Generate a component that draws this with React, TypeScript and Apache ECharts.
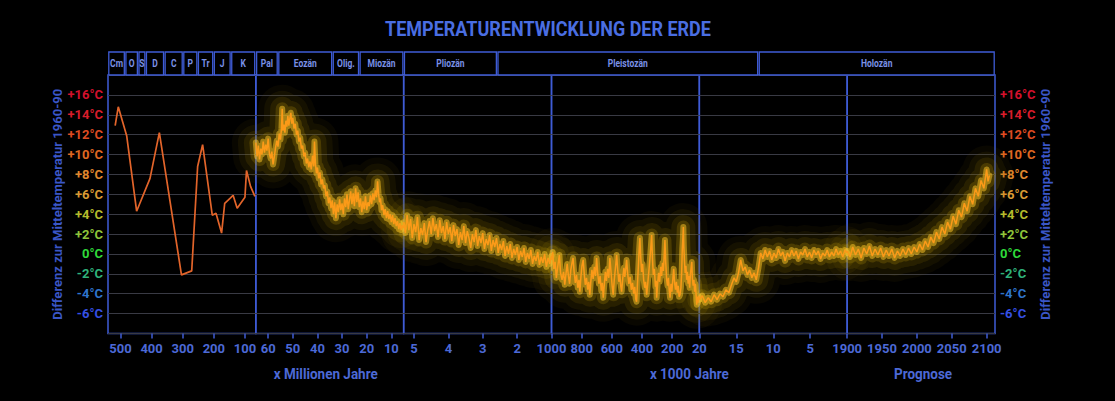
import React, { useEffect, useRef } from 'react';
import * as echarts from 'echarts';

const TITLE = 'TEMPERATURENTWICKLUNG DER ERDE';
const Y_NAME = 'Differenz zur Mitteltemperatur 1960-90';
const X_NAMES = ['x Millionen Jahre', 'x 1000 Jahre', 'Prognose'];

const Y_MIN = -8;
const Y_MAX = 18;
const Y_LABEL_MIN = -6;
const Y_LABEL_MAX = 16;
const Y_LABEL_COLORS: Record<string, string> = {
  '16': '#d3112c', '14': '#d81d2b', '12': '#de4b22', '10': '#e06822',
  '8': '#e0882e', '6': '#d89a34', '4': '#b4bb2c', '2': '#8fc43a',
  '0': '#2fd93a', '-2': '#2fb27a', '-4': '#2f74cc', '-6': '#3550e4',
};

// x-axis domains of the six sections (Ma, Ma, Ma, ka, ka, year)
const SEC_MIN = [65, 5, 1.0, 20, 0, 1900];
const SEC_MAX = [540, 65, 5.3, 1000, 20, 2112];
const SEC_INVERSE = [true, true, true, true, true, false];
const X_TICKS_1 = [500, 400, 300, 200, 100];
const X_TICKS_2 = [60, 50, 40, 30, 20, 10];
const X_TICKS_3 = [5, 4, 3, 2];
const X_TICKS_4 = [1000, 800, 600, 400, 200, 20];
const X_TICKS_5 = [15, 10, 5];
const X_TICKS_6 = [1900, 1950, 2000, 2050, 2100];
const X_TICKS = [X_TICKS_1, X_TICKS_2, X_TICKS_3, X_TICKS_4, X_TICKS_5, X_TICKS_6];

// geological periods: name, [section, value] start, [section, value] end
const PERIOD_NAMES = ['Cm', 'O', 'S', 'D', 'C', 'P', 'Tr', 'J', 'K', 'Pal', 'Eozän', 'Olig.', 'Miozän', 'Pliozän', 'Pleistozän', 'Holozän'];
const PERIOD_FROM: [number, number][] = [[0, 540], [0, 485], [0, 443], [0, 419], [0, 359], [0, 299], [0, 252], [0, 201], [0, 145], [1, 65], [1, 56], [1, 33.9], [1, 23], [2, 5.3], [2, 2.58], [4, 12]];
const PERIOD_TO: [number, number][] = [[0, 485], [0, 443], [0, 419], [0, 359], [0, 299], [0, 252], [0, 201], [0, 145], [0, 66], [1, 56], [1, 33.9], [1, 23], [1, 5], [2, 2.58], [4, 12], [5, 2112]];

// temperature data (°C difference) per section
const SEG1: [number, number][] = [
  [517, 12.9], [507, 14.8], [480, 11.9], [448, 4.3], [405, 7.6], [375, 12.2], [304, -2.1], [271, -1.7], [252, 8.8], [236, 11.0],
  [205, 3.9], [193, 4.1], [175, 2.1], [165, 5.1], [148, 5.6], [138, 5.9], [125, 4.6], [100, 5.7], [95, 8.4], [82, 6.8], [68, 5.8],
];
const SEG2: [number, number][] = [
  [65, 11.2], [64.5, 9.8], [64, 10.9], [63.5, 9.5], [63, 10.6], [62.5, 10.0], [62, 11.3], [61.5, 10.2], [61, 11.0], [60.5, 10.4],
  [60, 11.6], [59.5, 10.1], [59, 9.6], [58.5, 10.3], [58, 9.0], [57.5, 9.8], [57, 10.7], [56.5, 11.4], [56, 10.8], [55.5, 12.1],
  [55, 11.5], [54.6, 12.6], [54.3, 14.6], [54, 12.4], [53.6, 13.0], [53.2, 12.2], [52.8, 13.4], [52.4, 12.8], [52, 13.9], [51.6, 12.9],
  [51.2, 13.6], [50.8, 14.2], [50.4, 13.1], [50, 13.7], [49.5, 12.6], [49, 13.1], [48.5, 12.0], [48, 12.4], [47.5, 11.3], [47, 11.7],
  [46.5, 10.6], [46, 10.9], [45.5, 9.8], [45, 10.2], [44.5, 9.1], [44, 9.6], [43.5, 8.7], [43, 9.3], [42.5, 8.5], [42, 9.9],
  [41.5, 8.8], [41.2, 11.3], [40.8, 9.0], [40.4, 8.1], [40, 8.7], [39.5, 7.6], [39, 8.2], [38.5, 7.0], [38, 7.5], [37.5, 6.6],
  [37, 6.9], [36.5, 5.8], [36, 6.3], [35.5, 5.1], [35, 5.7], [34.5, 4.6], [34, 5.4], [33.5, 4.0], [33, 5.2], [32.5, 3.6],
  [32, 5.0], [31.5, 4.2], [31, 5.5], [30.5, 4.4], [30, 5.1], [29.5, 4.0], [29, 5.6], [28.5, 4.7], [28, 6.0], [27.5, 4.5],
  [27, 5.4], [26.5, 6.3], [26, 5.0], [25.5, 6.1], [25, 4.8], [24.5, 6.6], [24, 5.2], [23.5, 6.2], [23, 4.7], [22.5, 5.6],
  [22, 4.2], [21.5, 5.3], [21, 4.5], [20.5, 5.8], [20, 4.4], [19.5, 5.2], [19, 4.8], [18.5, 5.9], [18, 5.0], [17.5, 6.1],
  [17, 5.4], [16.5, 6.4], [16, 5.7], [15.6, 7.3], [15.2, 6.1], [14.8, 5.2], [14.4, 5.6], [14, 4.4], [13.5, 4.9], [13, 3.9],
  [12.5, 4.5], [12, 3.6], [11.5, 4.3], [11, 3.5], [10.5, 4.0], [10, 3.2], [9.5, 3.9], [9, 3.0], [8.5, 3.6], [8, 2.8],
  [7.5, 3.3], [7, 2.5], [6.5, 3.1], [6, 2.4], [5.5, 2.9], [5, 2.6],
];
const SEG3: [number, number][] = [
  [5.3, 3.2], [5.25, 2.1], [5.2, 3.9], [5.15, 2.4], [5.1, 3.5], [5.05, 1.6], [5.0, 3.0], [4.95, 2.2], [4.9, 3.7], [4.85, 1.4],
  [4.8, 2.6], [4.75, 1.9], [4.7, 3.1], [4.65, 1.2], [4.6, 2.4], [4.55, 3.3], [4.5, 2.0], [4.45, 3.6], [4.4, 2.3], [4.35, 3.0],
  [4.3, 1.7], [4.25, 3.4], [4.2, 2.1], [4.15, 2.8], [4.1, 1.5], [4.05, 3.2], [4.0, 2.0], [3.95, 2.7], [3.9, 1.3], [3.85, 2.9],
  [3.8, 1.8], [3.75, 2.5], [3.7, 0.9], [3.65, 2.2], [3.6, 1.4], [3.55, 2.8], [3.5, 1.1], [3.45, 2.3], [3.4, 1.6], [3.35, 0.6],
  [3.3, 2.0], [3.25, 1.2], [3.2, 2.4], [3.15, 0.8], [3.1, 1.8], [3.05, 1.1], [3.0, 2.1], [2.95, 0.5], [2.9, 1.5], [2.85, 0.9],
  [2.8, 1.9], [2.75, 0.3], [2.7, 1.4], [2.65, 0.7], [2.6, 1.6], [2.55, 0.1], [2.5, 1.0], [2.45, 0.4], [2.4, 1.3], [2.35, -0.2],
  [2.3, 0.8], [2.25, 0.0], [2.2, 1.0], [2.15, -0.4], [2.1, 0.5], [2.05, -0.1], [2.0, 0.7], [1.95, -0.6], [1.9, 0.3], [1.85, -0.3],
  [1.8, 0.6], [1.75, -0.8], [1.7, 0.1], [1.65, -0.5], [1.6, 0.4], [1.55, -1.0], [1.5, -0.2], [1.45, -0.7], [1.4, 0.2], [1.35, -1.1],
  [1.3, -0.3], [1.25, -0.9], [1.2, 0.0], [1.15, -1.3], [1.1, -0.4], [1.05, -1.0], [1.0, -0.2],
];
const SEG4: [number, number][] = [
  [1000, -0.6], [992, 0.2], [984, -1.5], [976, -0.8], [968, -2.4], [958, -1.2], [948, -0.1], [940, -1.9], [930, -2.6], [920, -1.8],
  [912, -3.1], [904, -2.0], [896, -1.0], [888, -2.2], [880, -3.0], [872, -1.6], [864, -0.9], [857, -0.4], [850, -1.8], [842, -2.9],
  [834, -2.1], [826, -3.4], [818, -2.6], [812, -3.8], [805, -2.3], [798, -1.2], [790, -0.6], [783, -2.0], [776, -3.1], [768, -2.4],
  [760, -3.6], [753, -2.8], [746, -4.1], [739, -2.7], [732, -1.6], [724, -2.5], [716, -1.3], [708, -2.2], [701, -0.4], [694, -1.9],
  [686, -3.0], [678, -2.2], [670, -3.7], [663, -2.9], [657, -4.4], [650, -3.1], [643, -1.8], [636, -2.7], [628, -1.5], [620, -2.4],
  [613, -0.4], [606, -1.7], [598, -3.2], [591, -4.1], [584, -2.6], [576, -1.4], [568, -0.1], [561, -1.6], [554, -2.8], [547, -2.0],
  [541, -3.2], [535, -3.8], [528, -2.5], [520, -1.4], [514, -2.3], [508, -1.5], [502, -0.6], [495, -2.0], [487, -3.0], [479, -2.3],
  [471, -3.6], [463, -2.9], [455, -4.0], [448, -3.3], [442, -4.5], [436, -4.8], [430, -3.0], [424, -1.2], [419, 0.4], [414, 1.6],
  [409, -0.2], [403, -1.8], [396, -1.0], [389, -2.6], [382, -3.4], [376, -2.8], [369, -4.1], [362, -3.0], [355, -1.8], [348, -0.6],
  [342, 0.6], [336, 1.9], [331, -0.4], [325, -2.1], [318, -1.5], [311, -3.3], [306, -2.7], [303, -4.4], [297, -3.1], [290, -1.9],
  [283, -2.8], [276, -1.3], [270, -2.2], [264, -0.9], [258, -1.7], [252, 0.1], [248, 1.4], [243, -0.8], [237, -2.5], [231, -3.2],
  [225, -2.4], [219, -3.7], [214, -4.4], [208, -3.0], [202, -3.8], [196, -2.6], [190, -1.5], [184, -2.9], [178, -3.6], [172, -2.8],
  [166, -3.9], [160, -3.2], [154, -4.3], [148, -4.1], [142, -3.4], [137, -1.8], [133, 0.5], [129, 1.6], [126, 2.7], [123, 0.8],
  [119, -0.6], [114, -1.9], [109, -1.2], [104, -2.6], [99, -1.8], [94, -3.0], [89, -2.2], [84, -3.4], [79, -2.0], [74, -1.3],
  [70, -0.8], [66, -2.5], [61, -3.2], [56, -2.6], [51, -3.8], [46, -3.0], [41, -4.2], [37, -5.1], [33, -4.3], [29, -4.9],
  [25, -4.2], [20, -4.6],
];
const SEG5: [number, number][] = [
  [20, -4.6], [19.6, -4.2], [19.2, -4.9], [18.8, -4.4], [18.4, -4.8], [18, -4.1], [17.6, -4.6], [17.2, -4.0], [16.8, -4.3], [16.4, -3.6],
  [16, -3.9], [15.6, -3.0], [15.3, -2.4], [15, -2.8], [14.7, -1.9], [14.4, -0.6], [14.1, -1.7], [13.8, -1.3], [13.5, -2.1], [13.2, -1.6],
  [12.9, -2.4], [12.6, -1.9], [12.3, -2.6], [12, -1.4], [11.7, 0.1], [11.4, -0.5], [11.1, 0.4], [10.8, -0.3], [10.5, 0.3], [10.2, -0.6],
  [9.9, 0.1], [9.6, -0.4], [9.3, 0.5], [9, -0.2], [8.7, 0.2], [8.4, -0.7], [8.1, 0.1], [7.8, -0.3], [7.5, 0.4], [7.2, -0.2],
  [6.9, 0.3], [6.6, -0.5], [6.3, 0.2], [6, -0.1], [5.7, 0.5], [5.4, -0.3], [5.1, 0.2], [4.8, -0.4], [4.5, 0.4], [4.2, -0.1],
  [3.9, 0.3], [3.6, -0.5], [3.3, 0.1], [3, -0.2], [2.7, 0.4], [2.4, -0.3], [2.1, 0.2], [1.8, -0.2], [1.5, 0.5], [1.2, -0.1],
  [0.9, 0.3], [0.6, -0.3], [0.3, 0.4], [0, 0.1],
];
const SEG6: [number, number][] = [
  [1900, 0.3], [1904, -0.3], [1908, 0.7], [1912, -0.1], [1916, 0.5], [1920, -0.4], [1924, 0.6], [1928, 0.0], [1932, 0.8], [1936, -0.2],
  [1940, 0.5], [1944, -0.1], [1948, 0.6], [1952, -0.3], [1956, 0.4], [1960, -0.2], [1964, 0.5], [1968, -0.4], [1972, 0.3], [1976, -0.2],
  [1980, 0.5], [1984, -0.1], [1988, 0.6], [1992, 0.0], [1996, 0.7], [2000, 0.2], [2004, 1.0], [2008, 0.4], [2012, 1.3], [2016, 0.7],
  [2020, 1.7], [2024, 1.1], [2028, 2.2], [2032, 1.5], [2036, 2.7], [2040, 2.0], [2044, 3.2], [2048, 2.5], [2052, 3.8], [2056, 3.0],
  [2060, 4.4], [2064, 3.7], [2068, 5.1], [2072, 4.3], [2076, 5.8], [2080, 5.0], [2084, 6.6], [2088, 5.8], [2092, 7.4], [2096, 6.6],
  [2100, 8.5], [2102, 7.3], [2104, 7.9],
];
const WARM_SEGS = [SEG2, SEG3, SEG4, SEG5, SEG6];

const FONT = "Roboto, 'Liberation Sans', sans-serif";
const BLUE = '#3f5cd6';
const LABEL_BLUE = '#4c69d6';
const GRID_GRAY = '#393a44';

// halo layers around the warm curve: [width, colour]
const HALO: [number, string][] = [
  [48, 'rgba(110,95,0,0.08)'],
  [36, 'rgba(130,110,0,0.10)'],
  [24, 'rgba(170,140,0,0.13)'],
  [13, 'rgba(210,170,10,0.20)'],
  [6, 'rgba(255,200,40,0.50)'],
];

export default function App() {
  const ref = useRef<HTMLDivElement>(null);
  useEffect(() => {
    document.body.style.margin = '0';
    document.body.style.background = '#000';
    const chart = echarts.init(ref.current as HTMLDivElement, null, { renderer: 'svg' });
    const L = 108, R = 995, T = 75, H = 258.5;
    const W = (R - L) / 6;
    const n = 6;
    const idx = Array.from({ length: n }, (_, i) => i);

    const grid = idx.map((i) => ({
      left: L + i * W, top: T, width: W, height: H,
      show: true, borderColor: BLUE, borderWidth: 1.5, backgroundColor: 'transparent',
    }));
    const xAxis = idx.map((i) => ({
      type: 'value', gridIndex: i, min: SEC_MIN[i], max: SEC_MAX[i], inverse: SEC_INVERSE[i],
      position: 'bottom',
      axisLine: { show: false, onZero: false },
      axisTick: { show: true, length: 5, lineStyle: { color: BLUE, width: 1.5 }, customValues: X_TICKS[i] },
      axisLabel: {
        show: true, customValues: X_TICKS[i], color: LABEL_BLUE, fontSize: 13, fontWeight: 'bold',
        fontFamily: FONT, margin: 8, showMinLabel: true, showMaxLabel: true, hideOverlap: false,
        formatter: (v: number) => String(v),
      },
      splitLine: { show: false },
    }));
    const yFmt = (v: number) => (v < Y_LABEL_MIN || v > Y_LABEL_MAX ? '' : (v > 0 ? '+' : '') + v + '°C');
    const yColor = (v: any) => Y_LABEL_COLORS[String(Number(v))] || LABEL_BLUE;
    const yAxis = idx.map((i) => {
      const edge = i === 0 || i === n - 1;
      return {
        type: 'value', gridIndex: i, min: Y_MIN, max: Y_MAX, interval: 2,
        position: i === n - 1 ? 'right' : 'left',
        axisLine: { show: false }, axisTick: { show: false },
        axisLabel: {
          show: edge, formatter: yFmt, color: yColor, fontSize: 13, fontWeight: 'bold',
          fontFamily: FONT, margin: 5,
        },
        splitLine: { show: true, lineStyle: { color: GRID_GRAY, width: 1 } },
        name: edge ? Y_NAME : '', nameLocation: 'middle', nameRotate: 90, nameGap: 43,
        nameTextStyle: { color: '#3a56c6', fontSize: 13, fontWeight: 'bold', fontFamily: FONT },
      };
    });

    const series: any[] = [
      {
        type: 'line', xAxisIndex: 0, yAxisIndex: 0, data: SEG1, showSymbol: false, symbol: 'none',
        lineStyle: { color: '#e2642a', width: 1.7 }, z: 5,
      },
    ];
    WARM_SEGS.forEach((seg, k) => {
      const i = k + 1;
      HALO.forEach(([w, c], h) => {
        series.push({
          type: 'line', xAxisIndex: i, yAxisIndex: i, data: seg, symbol: 'none', clip: false, z: 2 + h * 0.1,
          lineStyle: { color: c, width: w, join: 'round', cap: 'round' },
          silent: true,
        });
      });
      series.push({
        type: 'line', xAxisIndex: i, yAxisIndex: i, data: seg, symbol: 'none', z: 5,
        lineStyle: { color: '#fb9a18', width: 1.5 },
      });
    });

    chart.setOption({
      animation: false,
      backgroundColor: '#000',
      grid, xAxis, yAxis, series,
    });

    const px = (s: number, v: number) => chart.convertToPixel({ xAxisIndex: s } as any, v) as number;
    const bandTop = 52, bandH = T - bandTop;
    const graphic: any[] = [];
    PERIOD_NAMES.forEach((name, j) => {
      const a = px(PERIOD_FROM[j][0], PERIOD_FROM[j][1]);
      const b = px(PERIOD_TO[j][0], PERIOD_TO[j][1]);
      const x1 = Math.min(a, b), x2 = Math.max(a, b);
      graphic.push({
        type: 'rect', shape: { x: x1 + 0.8, y: bandTop, width: x2 - x1 - 1.6, height: bandH },
        style: { fill: '#000', stroke: BLUE, lineWidth: 1.3 },
      });
      graphic.push({
        type: 'text', x: (x1 + x2) / 2, y: bandTop + bandH / 2, scaleX: 0.85,
        style: { text: name, align: 'center', verticalAlign: 'middle', fill: '#7a90e6', fontSize: 10, fontWeight: 'bold', fontFamily: FONT },
      });
    });
    graphic.push({
      type: 'text', x: 548, y: 29, scaleX: 0.9,
      style: { text: TITLE, align: 'center', verticalAlign: 'middle', fill: '#4a6ee2', fontSize: 20, fontWeight: 'bold', fontFamily: FONT },
    });
    const nameY = 374;
    const nameStyle = { align: 'center', verticalAlign: 'middle', fill: LABEL_BLUE, fontSize: 15, fontWeight: 'bold', fontFamily: FONT };
    graphic.push({ type: 'text', x: L + W * 1.5 - 4, y: nameY, scaleX: 0.9, style: { text: X_NAMES[0], ...nameStyle } });
    graphic.push({ type: 'text', x: px(3, 20) - 10, y: nameY, scaleX: 0.9, style: { text: X_NAMES[1], ...nameStyle } });
    graphic.push({ type: 'text', x: L + W * 5.5 + 2, y: nameY, scaleX: 0.9, style: { text: X_NAMES[2], ...nameStyle } });
    chart.setOption({ graphic });

    return () => chart.dispose();
  }, []);
  return <div ref={ref} style={{ position: 'fixed', left: 0, top: 0, width: 1115, height: 401, background: '#000' }} />;
}
